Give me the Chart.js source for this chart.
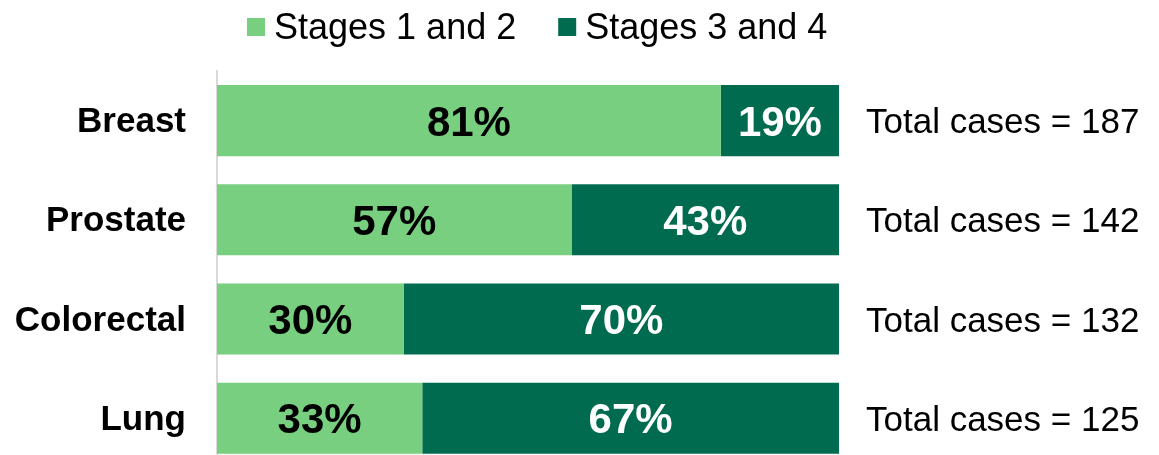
<!DOCTYPE html>
<html>
<head>
<meta charset="utf-8">
<script src="https://cdn.jsdelivr.net/npm/chart.js@4.4.1/dist/chart.umd.min.js"></script>
<style>
  html, body { margin: 0; padding: 0; background: #ffffff; overflow: hidden; }
  canvas { display: block; }
</style>
</head>
<body>
<canvas id="chart" width="1159" height="499"></canvas>
<script>
// Cancer sites and share of cases by stage at diagnosis (percent)
const categories = ['Breast', 'Prostate', 'Colorectal', 'Lung'];
const earlyStage = [81, 57, 30, 33];   // Stages 1 and 2
const lateStage = [19, 43, 70, 67];    // Stages 3 and 4
const totalCases = [187, 142, 132, 125];
const seriesNames = ['Stages 1 and 2', 'Stages 3 and 4'];

const FONT = '"Liberation Sans", Arial, Helvetica, sans-serif';
const LIGHT = '#78CF80';
const DARK = '#006B4F';

// Legend row above the plot
const legendRow = {
  id: 'legendRow',
  afterDraw(chart) {
    const ctx = chart.ctx;
    ctx.save();
    ctx.font = '36px ' + FONT;
    ctx.textBaseline = 'alphabetic';
    ctx.textAlign = 'left';
    let x = 247;
    chart.data.datasets.forEach(ds => {
      ctx.fillStyle = ds.backgroundColor;
      ctx.fillRect(x, 18, 18, 18);
      ctx.fillStyle = '#000000';
      ctx.fillText(ds.label, x + 27, 39);
      x += 27 + ctx.measureText(ds.label).width + 42;
    });
    ctx.restore();
  }
};

// Percent labels inside each segment and case totals to the right of each bar
const barLabels = {
  id: 'barLabels',
  afterDatasetsDraw(chart) {
    const ctx = chart.ctx;
    const area = chart.chartArea;
    ctx.save();
    chart.data.datasets.forEach((ds, di) => {
      const meta = chart.getDatasetMeta(di);
      meta.data.forEach((bar, i) => {
        const left = Math.min(bar.x, bar.base);
        const right = Math.max(bar.x, bar.base);
        const cx = (left + right) / 2;
        ctx.font = 'bold 42px ' + FONT;
        ctx.textAlign = 'center';
        ctx.textBaseline = 'alphabetic';
        ctx.fillStyle = di === 0 ? '#000000' : '#ffffff';
        ctx.fillText(ds.data[i] + '%', cx, bar.y + 15);
      });
    });
    const meta0 = chart.getDatasetMeta(0);
    ctx.font = '35px ' + FONT;
    ctx.textAlign = 'left';
    ctx.fillStyle = '#000000';
    meta0.data.forEach((bar, i) => {
      ctx.fillText('Total cases = ' + totalCases[i], area.right + 27, bar.y + 12.5);
    });
    ctx.restore();
  }
};

new Chart(document.getElementById('chart'), {
  type: 'bar',
  data: {
    labels: categories,
    datasets: [
      { label: seriesNames[0], data: earlyStage, backgroundColor: LIGHT, borderWidth: 0 },
      { label: seriesNames[1], data: lateStage, backgroundColor: DARK, borderWidth: 0 }
    ]
  },
  options: {
    indexAxis: 'y',
    responsive: false,
    animation: false,
    datasets: {
      bar: { barPercentage: 1, categoryPercentage: 0.717 }
    },
    layout: { padding: { top: 71, right: 320, bottom: 0, left: 0 } },
    plugins: {
      legend: { display: false },
      tooltip: { enabled: false }
    },
    scales: {
      x: {
        stacked: true,
        min: 0,
        max: 100,
        display: false
      },
      y: {
        stacked: true,
        grid: { display: false, drawTicks: false },
        border: { display: true, color: '#D9D9D9', width: 2 },
        ticks: {
          color: '#000000',
          padding: 31,
          labelOffset: 2,
          font: { family: FONT, size: 35, weight: 'bold', lineHeight: 0.01 }
        },
        afterFit(scale) { scale.width = 217; }
      }
    }
  },
  plugins: [legendRow, barLabels]
});
</script>
</body>
</html>
